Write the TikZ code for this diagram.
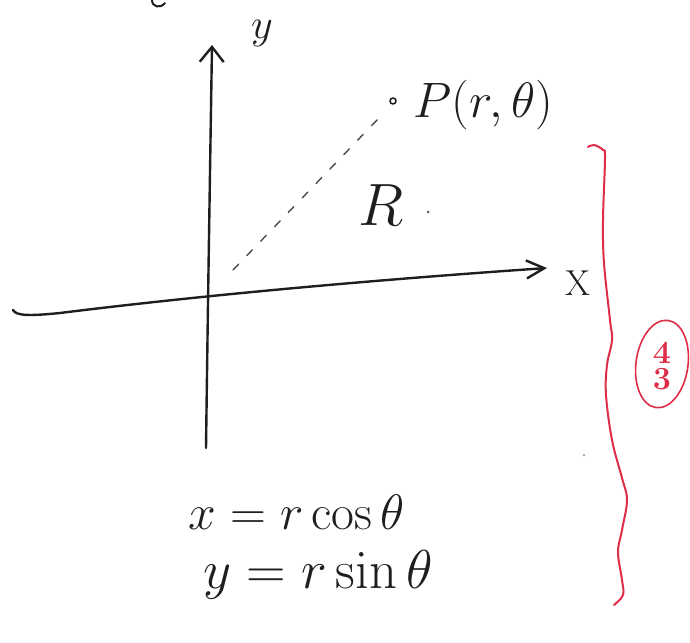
\documentclass[tikz,border=0pt]{standalone}
\usetikzlibrary{arrows.meta}
\definecolor{markred}{RGB}{222,45,70}
\definecolor{inkc}{RGB}{30,30,30}
\newcommand{\bigtxt}[2]{\scalebox{#1}{\Huge #2}}
\begin{document}
\begin{tikzpicture}[x=1pt,y=-1pt, line cap=round, line join=round,
 ink/.style={line width=2.4pt, draw=inkc},
 dashink/.style={line width=1.4pt, draw=inkc!80, dash pattern=on 8pt off 12pt},
 redink/.style={line width=2pt, draw=markred},
 lbl/.style={inner sep=0pt, text=inkc},
 pointmark/.style={circle, draw=inkc, line width=1.6pt, minimum size=6pt, inner sep=0pt},
]
\useasboundingbox (0,0) rectangle (690,642);
% axes
\coordinate (O) at (211,293);
\coordinate (ybot) at (206,448);
\coordinate (ytop) at (212,45);
\coordinate (xl) at (13,310);
\coordinate (xr) at (547,268);
\draw[ink, -{Straight Barb[length=15pt,width=24pt]}] (ybot) .. controls (208,300) .. (ytop);
\draw[ink, -{Straight Barb[length=18pt,width=18pt]}] (xl) .. controls (16,316) and (30,316) .. (60,313) .. controls (140,303) and (300,285) .. (xr);
% point and dashed radius
\node[pointmark] (P) at (393,101) {};
\coordinate (d1) at (233,270);
\coordinate (d2) at (378,119);
\draw[dashink] (d1) -- (d2);
% labels
\node[lbl] (ylab) at (262,34) {\bigtxt{1.7}{$y$}};
\node[lbl] (xlab) at (578,283) {\bigtxt{1.45}{X}};
\node[lbl, anchor=west] (Plab) at (413,105) {\bigtxt{2.0}{$P(r,\theta)$}};
\node[lbl] (Rlab) at (381,205) {\bigtxt{2.4}{$R$}};
\fill[inkc!70] (428,212) circle (1.5);
% equations
\node[lbl] (eq1) at (297,512) {\bigtxt{2.0}{$x = r\cos\theta$}};
\node[lbl] (eq2) at (318,575) {\bigtxt{2.2}{$y = r\sin\theta$}};
% fragment at top
\draw[ink, line width=2pt] (152,0) .. controls (152,7) and (160,9) .. (165,3);
\fill[inkc!50] (584,455) circle (1.2);
% red brace
\draw[redink] plot[smooth, tension=0.6] coordinates {(588,147) (594,145) (603,150) (605,158) (603,220) (604,263) (610,320) (612,340) (607,365) (606,395) (612,440) (622,478) (627,500) (622,530) (618,552) (622,580) (623,595) (614,605)};
% circled mark
\draw[redink, line width=1.6pt, rotate around={-8:(662,364)}] (662,364) ellipse (26 and 44);
\node[lbl, text=markred] (mark) at (662,366) {\bigtxt{1.3}{\bfseries\shortstack{4\\[0pt]3}}};
\end{tikzpicture}
\end{document}
